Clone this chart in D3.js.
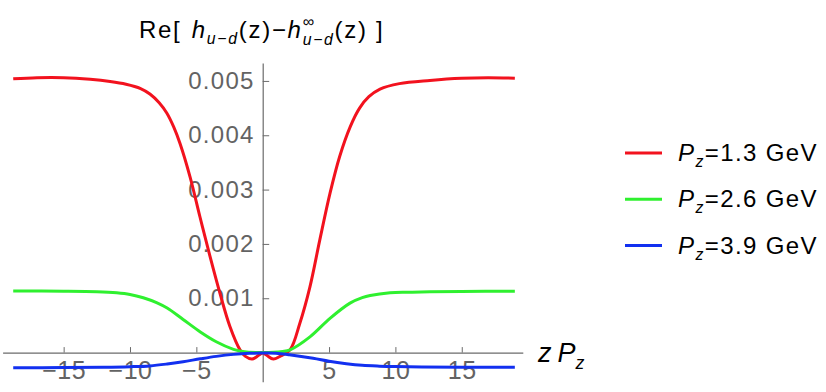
<!DOCTYPE html>
<html>
<head>
<meta charset="utf-8">
<script src="https://cdn.jsdelivr.net/npm/d3@7"></script>
<style>
  body { margin: 0; background: #fff; }
  svg { display: block; font-family: "Liberation Sans", Arial, sans-serif; }
</style>
</head>
<body>
<svg></svg>
<script>
/** Curve values (z Pz, value) */
let redZ   = [-18.8, -17, -15, -13, -11.5, -10.3, -9.2, -8.5, -7.8, -7.23, -6.7, -6.23, -5.48, -4.73, -3.97, -3.22, -2.47, -1.71, -1.3, -0.8, -0.3, 0,
              0.3, 0.8, 1.3, 2.06, 2.8, 3.56, 4.3, 5.07, 5.8, 6.6, 7.3, 8.0, 8.84, 10.3, 12.6, 15, 17, 19];
let redVal = [0.00504, 0.00506, 0.00506, 0.00503, 0.00499, 0.00494, 0.00486, 0.00476, 0.00460, 0.00441, 0.00415, 0.00385, 0.00324, 0.00250, 0.00177, 0.00109, 0.00048, 0.00005, -0.00007, -0.00012, -0.00005, -0.00001,
              -0.00005, -0.00012, -0.00007, 0.00005, 0.00054, 0.00121, 0.00207, 0.00293, 0.00361, 0.00416, 0.00450, 0.00471, 0.00485, 0.00495, 0.00501, 0.00505, 0.00506, 0.00505];

let greenZ   = [-18.8, -15, -12.5, -11, -10, -9, -8, -7.2, -6, -4.7, -3.5, -2.2, -1.5, 0, 1.5, 2.06, 3.56, 5.07, 6.58, 7.5, 8.1, 9.6, 11, 12.6, 15, 19];
let greenVal = [0.001134, 0.00113, 0.00112, 0.00110, 0.00107, 0.00101, 0.00092, 0.00082, 0.00061, 0.00038, 0.00020, 0.00006, 0.00002, 0, 0.00002, 0.00005, 0.00029, 0.00063, 0.00091, 0.00101, 0.00105, 0.00110, 0.00111, 0.00112, 0.001125, 0.00113];

let blueZ   = [-18.8, -15, -12, -10, -8.5, -7.2, -6, -4.7, -3.5, -2.2, -1, 0, 1, 2, 3.8, 5, 6.3, 7.5, 8.8, 10, 12, 15, 19];
let blueVal = [-0.000278, -0.000276, -0.00027, -0.00026, -0.000245, -0.00021, -0.000168, -0.000115, -0.00007, -0.000033, -0.000013, -0.00001, -0.000013, -0.00004, -0.000105, -0.00016, -0.000205, -0.000235, -0.00025, -0.000258, -0.000265, -0.00027, -0.00027];

let legendLabels = ['1.3', '2.6', '3.9'];
let colors = ['#f2121e', '#2ff02f', '#1230f0'];

let xMajor = [-15, -10, -5, 5, 10, 15];
let xMinor = d3.range(-19, 20);
let yMajor = [0.001, 0.002, 0.003, 0.004, 0.005];
let yMinor = d3.range(-4, 27).map(i => i * 0.0002);

let width = 826;
let height = 392;

let svg = d3.select('svg').attr('width', width).attr('height', height);

let xScale = d3.scaleLinear().domain([-19.6, 19.6]).range([2.6, 522.8]);
let yScale = d3.scaleLinear().domain([-0.000536, 0.00533]).range([381.7, 63]);

const axisGrey = '#6b6b6b';

/** puts italic / sub / sup pieces one after another, returns the group */
const richText = (parent, x, y, parts, size, anchor, spacing) => {
    let g = parent.append('g');
    let cx = 0;
    parts.forEach(p => {
        let fs = p.small ? size * 0.66 : size;
        let t = g.append('text')
            .attr('x', cx)
            .attr('y', p.dy || 0)
            .attr('font-size', fs)
            .attr('font-style', p.it ? 'italic' : 'normal')
            .attr('letter-spacing', spacing || 0)
            .attr('fill', '#000')
            .text(p.t);
        let w = t.node().getComputedTextLength();
        if (p.stack) {
            let t2 = g.append('text')
                .attr('x', cx)
                .attr('y', p.stack.dy)
                .attr('font-size', size * 0.66)
                .attr('font-style', 'italic')
                .attr('letter-spacing', spacing || 0)
                .text(p.stack.t);
            w = Math.max(w, t2.node().getComputedTextLength());
        }
        cx += w + (p.gap || 0);
    });
    let shift = anchor === 'middle' ? -cx / 2 : 0;
    g.attr('transform', `translate(${x + shift}, ${y})`);
    return g;
};

/** Axes through the origin, Mathematica style */
const drawAxes = () => {
    let y0 = yScale(0);
    let x0 = xScale(0);

    let xg = svg.append('g').attr('transform', `translate(0, ${y0})`);
    xg.call(d3.axisBottom(xScale).tickValues(xMinor).tickSize(-3.3).tickSizeOuter(0).tickFormat(''));
    xg.call(d3.axisBottom(xScale).tickValues(xMajor).tickSize(-5.5).tickSizeOuter(0).tickPadding(9)
        .tickFormat(d => d < 0 ? '\u2212' + Math.abs(d) : d));

    let yg = svg.append('g').attr('transform', `translate(${x0}, 0)`);
    yg.call(d3.axisLeft(yScale).tickValues(yMinor).tickSize(-4).tickSizeOuter(0).tickFormat(''));
    yg.call(d3.axisLeft(yScale).tickValues(yMajor).tickSize(-6.5).tickSizeOuter(0).tickPadding(8)
        .tickFormat(d3.format('.3f')));

    svg.selectAll('.domain').attr('stroke', axisGrey).attr('stroke-width', 1.2);
    svg.selectAll('.tick line').attr('stroke', axisGrey);
    svg.selectAll('.tick text')
        .attr('fill', '#636363')
        .attr('font-family', '"Liberation Sans", Arial, sans-serif');
    xg.selectAll('.tick text').attr('font-size', 25).attr('letter-spacing', 0.5);
    yg.selectAll('.tick text').attr('font-size', 24).attr('letter-spacing', 1.3);
};

/** the three curves */
const drawCurves = () => {
    let line = d3.line()
        .x(d => xScale(d[0]))
        .y(d => yScale(d[1]))
        .curve(d3.curveCatmullRom.alpha(0.5));

    let series = [
        d3.zip(redZ, redVal),
        d3.zip(greenZ, greenVal),
        d3.zip(blueZ, blueVal)
    ];

    svg.append('g').selectAll('path')
        .data(series)
        .enter()
        .append('path')
        .attr('d', line)
        .attr('fill', 'none')
        .attr('stroke', (d, i) => colors[i])
        .attr('stroke-width', 3)
        .attr('stroke-linejoin', 'round');
};

/** title, x label and legend */
const drawLabels = () => {
    richText(svg, xScale(0) - 1, 37.5, [
        { t: 'Re[\u00A0', gap: 2 },
        { t: 'h', it: true },
        { t: 'u\u2212d', it: true, small: true, dy: 6 },
        { t: '(z)\u2212' },
        { t: 'h', it: true },
        { t: '\u221E', small: true, dy: -11, stack: { t: 'u\u2212d', dy: 7 } },
        { t: '(z)\u00A0]' }
    ], 24, 'middle', 1.7);

    richText(svg, 538, 362, [
        { t: 'z', it: true, gap: 6 },
        { t: 'P', it: true },
        { t: 'z', it: true, small: true, dy: 7 }
    ], 27, 'start');

    let lg = svg.append('g');
    legendLabels.forEach((lab, i) => {
        let y = 153 + i * 46.3;
        lg.append('line')
            .attr('x1', 625).attr('x2', 662)
            .attr('y1', y).attr('y2', y)
            .attr('stroke', colors[i])
            .attr('stroke-width', 3);
        richText(lg, 678, y + 8, [
            { t: 'P', it: true },
            { t: 'z', it: true, small: true, dy: 6 },
            { t: '=' + lab + '\u00A0GeV' }
        ], 24, 'start', 1.4);
    });
};

drawAxes();
drawCurves();
drawLabels();
</script>
</body>
</html>
